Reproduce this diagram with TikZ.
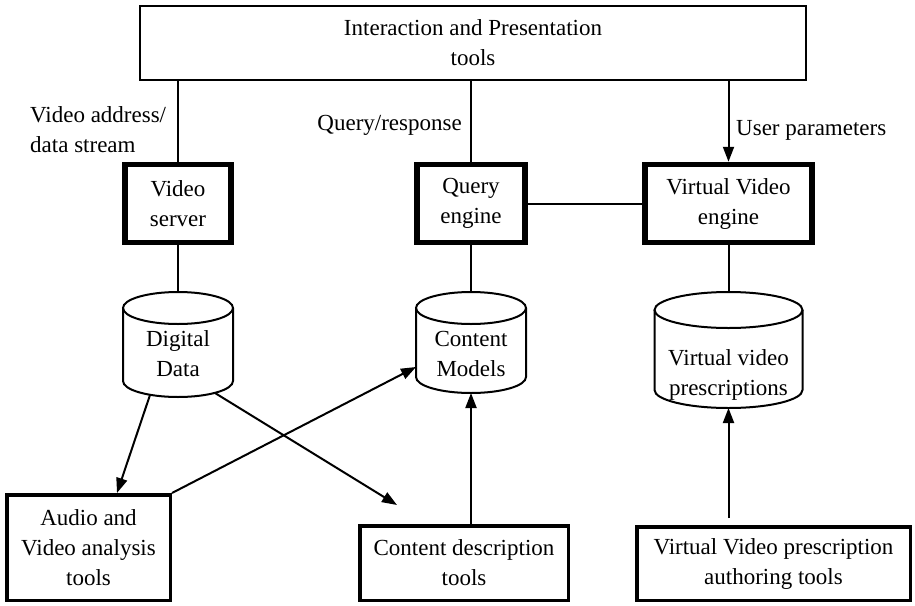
\documentclass[tikz,border=0pt]{standalone}
\usepackage{fontspec}
\setmainfont{Liberation Serif}
\usetikzlibrary{arrows.meta,calc}
\newcommand\drawcyl[3]{%
  \draw[cylline] ([yshift=-#3pt]#1.north west) -- ([yshift=#3pt]#1.south west)
    arc[start angle=180,end angle=360,x radius=#2pt,y radius=#3pt]
    -- ([yshift=-#3pt]#1.north east);
  \draw[cylline] ([yshift=-#3pt]#1.north) ellipse[x radius=#2pt,y radius=#3pt];}
\begin{document}
\begin{tikzpicture}[x=1pt,y=-1pt,
  every node/.style={font=\fontsize{23}{30}\selectfont, align=center, inner sep=0pt},
  plainbox/.style={draw, line width=2pt, rectangle},
  enginebox/.style={draw, line width=5.5pt, rectangle},
  toolbox/.style={draw, line width=3.5pt, rectangle},
  cylnode/.style={rectangle, outer sep=0pt},
  cylline/.style={line width=2pt},
  conn/.style={line width=2pt},
  arr/.style={line width=2pt, -{Triangle[length=15pt,width=11pt]}}
]
\useasboundingbox (0,0) rectangle (915,605);

% top box
\node[plainbox, minimum width=666pt, minimum height=74pt] (top) at (473,43) {Interaction and Presentation\\tools};

% engines
\node[enginebox, minimum width=106pt, minimum height=78pt] (vs) at (178,203.5) {Video\\server};
\node[enginebox, minimum width=108pt, minimum height=78pt] (qe) at (471,203.5) {Query\\engine};
\node[enginebox, minimum width=167pt, minimum height=78pt] (vve) at (728.5,203.5) {Virtual Video\\engine};

% cylinders
\node[cylnode, minimum width=110pt, minimum height=105pt] (dd) at (178,344.5) {};
\node[cylnode, minimum width=110pt, minimum height=101pt] (cm) at (471,342.5) {};
\node[cylnode, minimum width=148pt, minimum height=116pt] (vp) at (728.5,350) {};
\drawcyl{dd}{55}{16}
\drawcyl{cm}{55}{16}
\drawcyl{vp}{74}{18}
\node (ddt) at (178,354) {Digital\\Data};
\node (cmt) at (471,354) {Content\\Models};
\node (vpt) at (728.5,375) {Virtual video\\prescriptions};

% tool boxes
\node[toolbox, minimum width=163.5pt, minimum height=105.5pt] (av) at (88.5,547.5) {Audio and\\Video analysis\\tools};
\node[toolbox, minimum width=208.5pt, minimum height=74.5pt] (cd) at (464,563) {Content description\\tools};
\node[toolbox, minimum width=273.5pt, minimum height=73.5pt] (va) at (773.5,563.5) {Virtual Video prescription\\authoring tools};

% labels
\node[anchor=west, align=left] (lab1) at (30,130) {Video address/\\data stream};
\node[anchor=east] (lab2) at (462,125) {Query/response};
\node[anchor=west] (lab3) at (736,130) {User parameters};

% connectors
\draw[conn] (top.south -| vs.north) -- (vs.north);
\draw[conn] (top.south -| qe.north) -- (qe.north);
\draw[arr] (top.south -| vve.north) -- (vve.north);
\draw[conn] (qe.east) -- (qe.east -| vve.west);
\draw[conn] (vs.south) -- (dd.north);
\draw[conn] (qe.south) -- (cm.north);
\draw[conn] (vve.south) -- (vp.north);

\coordinate (c3) at (397,505);
\draw[arr] ([xshift=-28pt,yshift=2pt]dd.south) -- ([xshift=28.5pt]av.north);
\draw[arr] (av.north east) -- ([yshift=-24.5pt]cm.west);
\draw[arr] ([xshift=37pt,yshift=4pt]dd.south) -- (c3);
\draw[arr] (cd.north -| cm.south) -- (cm.south);
\draw[arr, shorten <=7pt] (va.north -| vp.south) -- (vp.south);
\end{tikzpicture}
\end{document}
